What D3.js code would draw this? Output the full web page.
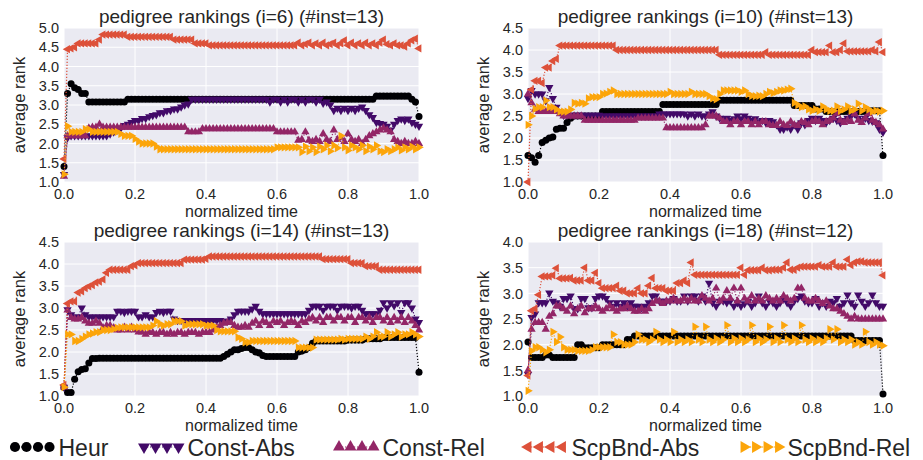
<!DOCTYPE html>
<html>
<head>
<meta charset="utf-8">
<script src="https://cdn.jsdelivr.net/npm/d3@7"></script>
<style>
  body { margin: 0; background: #fff; }
  svg { display: block; font-family: "Liberation Sans", Arial, sans-serif; }
</style>
</head>
<body>
<svg id="chart" width="923" height="460"></svg>
<script>
// series, in drawing order
const seriesNames = ["Heur", "Const-Abs", "Const-Rel", "ScpBnd-Abs", "ScpBnd-Rel"];
const seriesColors = ["#000004", "#420a68", "#932667", "#dd513a", "#fca50a"];

const titles = [
  "pedigree rankings (i=6) (#inst=13)",
  "pedigree rankings (i=10) (#inst=13)",
  "pedigree rankings (i=14) (#inst=13)",
  "pedigree rankings (i=18) (#inst=12)",
];
const yMax = [5.0, 4.5, 4.5, 4.0];
const xTicks = [0, 0.2, 0.4, 0.6, 0.8, 1.0];

// average rank sampled at normalized time 0.00, 0.01, ... 1.00
const heur6 = [
  1.4, 3.3, 3.55, 3.45, 3.4, 3.3, 3.3, 3.08, 3.08, 3.08,
  3.08, 3.08, 3.08, 3.08, 3.08, 3.08, 3.08, 3.08, 3.15, 3.15,
  3.15, 3.15, 3.15, 3.15, 3.15, 3.15, 3.15, 3.15, 3.15, 3.15,
  3.15, 3.15, 3.15, 3.15, 3.15, 3.15, 3.15, 3.15, 3.15, 3.15,
  3.15, 3.15, 3.15, 3.15, 3.15, 3.15, 3.15, 3.15, 3.15, 3.15,
  3.15, 3.15, 3.15, 3.15, 3.15, 3.15, 3.15, 3.15, 3.15, 3.15,
  3.15, 3.15, 3.15, 3.15, 3.15, 3.15, 3.15, 3.15, 3.15, 3.15,
  3.15, 3.15, 3.15, 3.15, 3.15, 3.15, 3.15, 3.15, 3.15, 3.15,
  3.15, 3.15, 3.15, 3.15, 3.15, 3.15, 3.15, 3.15, 3.23, 3.23,
  3.23, 3.23, 3.23, 3.23, 3.23, 3.23, 3.23, 3.23, 3.15, 3.08,
  2.7];
const constAbs6 = [
  1.2, 2.15, 2.2, 2.2, 2.2, 2.2, 2.2, 2.2, 2.2, 2.2,
  2.2, 2.2, 2.2, 2.25, 2.3, 2.35, 2.4, 2.47, 2.5, 2.55,
  2.6, 2.6, 2.65, 2.65, 2.7, 2.73, 2.75, 2.8, 2.8, 2.85,
  2.86, 2.9, 2.9, 2.95, 3.0, 3.03, 3.15, 3.15, 3.15, 3.15,
  3.15, 3.15, 3.15, 3.15, 3.15, 3.15, 3.15, 3.15, 3.15, 3.15,
  3.15, 3.15, 3.15, 3.15, 3.15, 3.15, 3.15, 3.15, 3.08, 3.15,
  3.15, 3.08, 3.15, 3.08, 3.15, 3.15, 3.08, 3.15, 3.08, 3.15,
  3.15, 3.08, 3.15, 3.05, 3.08, 3.0, 2.86, 2.92, 2.86, 2.92,
  2.86, 2.92, 2.86, 2.92, 2.95, 2.86, 2.75, 2.68, 2.55, 2.52,
  2.5, 2.45, 2.35, 2.5, 2.6, 2.64, 2.6, 2.64, 2.55, 2.5,
  2.45];
const constRel6 = [
  1.15, 2.2, 2.2, 2.2, 2.2, 2.2, 2.2, 2.4, 2.42, 2.42,
  2.5, 2.42, 2.42, 2.42, 2.42, 2.42, 2.42, 2.42, 2.42, 2.42,
  2.42, 2.42, 2.42, 2.42, 2.42, 2.42, 2.42, 2.42, 2.42, 2.42,
  2.42, 2.42, 2.42, 2.42, 2.42, 2.3, 2.3, 2.3, 2.3, 2.38,
  2.38, 2.38, 2.38, 2.38, 2.38, 2.38, 2.38, 2.38, 2.38, 2.38,
  2.38, 2.38, 2.38, 2.38, 2.38, 2.38, 2.38, 2.38, 2.38, 2.38,
  2.3, 2.3, 2.3, 2.3, 2.3, 2.3, 2.08, 2.1, 2.3, 2.08,
  2.05, 2.1, 2.05, 2.25, 2.1, 2.05, 2.35, 2.1, 2.15, 2.05,
  2.25, 2.1, 2.05, 2.1, 2.0, 2.1, 2.2, 2.25, 2.3, 2.35,
  2.4, 2.35, 2.3, 2.1, 2.05, 2.0, 2.05, 2.0, 2.0, 2.05,
  2.0];
const scpAbs6 = [
  1.6, 4.45, 4.47, 4.5, 4.6, 4.6, 4.6, 4.6, 4.6, 4.6,
  4.7, 4.83, 4.83, 4.83, 4.83, 4.83, 4.83, 4.83, 4.77, 4.77,
  4.77, 4.77, 4.77, 4.77, 4.77, 4.77, 4.77, 4.77, 4.77, 4.77,
  4.77, 4.7, 4.7, 4.7, 4.7, 4.7, 4.7, 4.6, 4.6, 4.6,
  4.6, 4.55, 4.55, 4.55, 4.55, 4.55, 4.55, 4.55, 4.55, 4.55,
  4.55, 4.55, 4.55, 4.55, 4.55, 4.55, 4.55, 4.55, 4.55, 4.55,
  4.55, 4.55, 4.55, 4.55, 4.55, 4.55, 4.62, 4.55, 4.58, 4.62,
  4.55, 4.6, 4.55, 4.62, 4.55, 4.58, 4.62, 4.55, 4.6, 4.68,
  4.55, 4.62, 4.55, 4.6, 4.55, 4.62, 4.55, 4.6, 4.55, 4.62,
  4.7, 4.58, 4.55, 4.6, 4.55, 4.55, 4.52, 4.6, 4.68, 4.72,
  4.47];
const scpRel6 = [
  1.2, 2.45, 2.3, 2.3, 2.3, 2.3, 2.37, 2.37, 2.3, 2.3,
  2.3, 2.3, 2.3, 2.3, 2.3, 2.3, 2.25, 2.2, 2.2, 2.2,
  2.12, 2.05, 2.0, 2.0, 2.0, 2.0, 1.92, 1.85, 1.85, 1.85,
  1.85, 1.85, 1.85, 1.85, 1.85, 1.85, 1.85, 1.85, 1.85, 1.85,
  1.85, 1.85, 1.85, 1.85, 1.85, 1.85, 1.85, 1.85, 1.85, 1.85,
  1.85, 1.85, 1.85, 1.85, 1.85, 1.85, 1.85, 1.85, 1.85, 1.85,
  1.9, 1.9, 1.9, 1.9, 1.9, 1.9, 1.9, 1.78, 1.92, 1.8,
  1.9, 1.78, 1.92, 1.85, 1.95, 1.8, 1.95, 1.88, 2.2, 1.9,
  1.82, 1.95, 1.9, 1.85, 1.95, 1.8, 1.92, 1.85, 1.95, 1.8,
  1.78, 1.85, 1.8, 1.85, 1.9, 1.82, 1.9, 1.85, 1.92, 1.85,
  1.9];

const heur10 = [
  1.6, 1.55, 1.45, 1.6, 1.9, 1.95, 2.0, 2.02, 2.2, 2.22,
  2.22, 2.35, 2.45, 2.5, 2.5, 2.5, 2.5, 2.5, 2.5, 2.5,
  2.5, 2.6, 2.6, 2.6, 2.6, 2.6, 2.6, 2.6, 2.6, 2.6,
  2.6, 2.6, 2.6, 2.6, 2.6, 2.6, 2.6, 2.6, 2.76, 2.76,
  2.76, 2.76, 2.76, 2.76, 2.76, 2.76, 2.76, 2.76, 2.76, 2.76,
  2.76, 2.76, 2.76, 2.76, 2.86, 2.86, 2.86, 2.86, 2.86, 2.86,
  2.86, 2.86, 2.86, 2.86, 2.86, 2.86, 2.86, 2.86, 2.86, 2.86,
  2.86, 2.86, 2.86, 2.86, 2.86, 2.74, 2.74, 2.74, 2.74, 2.74,
  2.74, 2.66, 2.66, 2.66, 2.6, 2.6, 2.6, 2.6, 2.6, 2.6,
  2.6, 2.6, 2.6, 2.6, 2.6, 2.6, 2.62, 2.62, 2.62, 2.62,
  1.6];
const constAbs10 = [
  2.9, 3.08, 3.0, 3.0, 3.0, 2.85, 3.15, 2.9, 2.7, 2.6,
  2.52, 2.52, 2.52, 2.52, 2.52, 2.52, 2.52, 2.52, 2.52, 2.52,
  2.52, 2.5, 2.5, 2.5, 2.5, 2.5, 2.5, 2.5, 2.5, 2.5,
  2.5, 2.5, 2.5, 2.5, 2.5, 2.5, 2.5, 2.55, 2.55, 2.55,
  2.55, 2.55, 2.55, 2.55, 2.55, 2.5, 2.55, 2.5, 2.55, 2.5,
  2.5, 2.55, 2.6, 2.5, 2.45, 2.44, 2.45, 2.4, 2.44, 2.5,
  2.44, 2.5, 2.45, 2.4, 2.44, 2.37, 2.4, 2.35, 2.4, 2.37,
  2.3, 2.2, 2.2, 2.25, 2.2, 2.3, 2.2, 2.35, 2.3, 2.4,
  2.45, 2.4, 2.45, 2.4, 2.35, 2.4, 2.45, 2.4, 2.35, 2.4,
  2.45, 2.5, 2.55, 2.45, 2.4, 2.45, 2.4, 2.38, 2.35, 2.2,
  2.13];
const constRel10 = [
  3.0, 2.8, 2.65, 2.6, 2.6, 2.6, 2.6, 2.6, 2.6, 2.55,
  2.5, 2.5, 2.5, 2.5, 2.5, 2.5, 2.4, 2.4, 2.4, 2.4,
  2.4, 2.4, 2.4, 2.4, 2.4, 2.4, 2.4, 2.4, 2.4, 2.4,
  2.4, 2.45, 2.45, 2.45, 2.45, 2.45, 2.45, 2.45, 2.45, 2.23,
  2.23, 2.23, 2.23, 2.23, 2.23, 2.23, 2.23, 2.23, 2.23, 2.23,
  2.3, 2.5, 2.5, 2.5, 2.45, 2.37, 2.37, 2.3, 2.37, 2.37,
  2.3, 2.37, 2.37, 2.3, 2.37, 2.3, 2.37, 2.37, 2.3, 2.28,
  2.28, 2.37, 2.3, 2.28, 2.37, 2.3, 2.28, 2.37, 2.35, 2.3,
  2.37, 2.4, 2.37, 2.3, 2.37, 2.4, 2.45, 2.55, 2.4, 2.35,
  2.4, 2.37, 2.55, 2.4, 2.35, 2.45, 2.55, 2.4, 2.35, 2.3,
  2.2];
const scpAbs10 = [
  1.0, 3.1, 3.3, 3.3, 3.25, 3.6, 3.6, 3.75, 3.8, 4.1,
  4.1, 4.1, 4.1, 4.1, 4.1, 4.1, 4.1, 4.1, 4.1, 4.1,
  4.1, 4.1, 4.1, 4.1, 4.1, 4.0, 4.0, 4.0, 4.0, 4.0,
  4.0, 4.0, 4.0, 4.0, 4.0, 4.0, 4.0, 4.0, 4.0, 4.0,
  4.0, 4.0, 4.0, 4.0, 4.0, 4.0, 4.0, 4.0, 4.0, 4.0,
  4.0, 4.0, 4.0, 4.0, 3.89, 3.89, 3.89, 3.89, 3.89, 3.89,
  3.89, 3.89, 3.89, 3.89, 3.89, 3.89, 3.89, 3.95, 3.89, 3.89,
  3.89, 3.89, 3.89, 3.89, 3.89, 3.89, 3.89, 3.89, 3.89, 3.89,
  4.0, 3.95, 3.95, 3.95, 3.95, 4.1, 3.95, 3.95, 4.0, 4.15,
  3.97, 3.97, 3.97, 3.97, 3.97, 3.97, 3.97, 4.0, 3.97, 4.18,
  3.95];
const scpRel10 = [
  2.3, 2.5, 2.66, 2.7, 2.7, 2.85, 2.7, 2.7, 2.65, 2.6,
  2.6, 2.6, 2.65, 2.8, 2.78, 2.8, 2.78, 2.9, 2.93, 2.93,
  2.93, 3.0, 3.01, 3.05, 3.08, 3.0, 3.0, 3.0, 3.0, 3.0,
  3.0, 3.0, 3.0, 3.0, 3.0, 3.0, 3.0, 3.0, 3.0, 3.0,
  3.05, 3.0, 3.0, 3.0, 3.0, 3.0, 3.05, 3.0, 3.0, 3.0,
  3.0, 2.95, 2.9, 2.88, 3.0, 3.08, 3.08, 3.08, 3.08, 3.08,
  3.05, 3.08, 3.0, 2.96, 2.95, 2.96, 2.95, 3.0, 3.05, 3.02,
  3.05, 3.08, 3.08, 3.1, 3.12, 2.8, 2.75, 2.7, 2.72, 2.65,
  2.62, 2.65, 2.62, 2.72, 2.65, 2.62, 2.62, 2.72, 2.62, 2.65,
  2.72, 2.62, 2.65, 2.78, 2.62, 2.7, 2.65, 2.6, 2.62, 2.6,
  2.62];

const heur14 = [
  1.2, 1.08, 1.08, 1.38, 1.55, 1.6, 1.62, 1.75, 1.85, 1.85,
  1.86, 1.86, 1.86, 1.86, 1.86, 1.86, 1.86, 1.86, 1.86, 1.86,
  1.86, 1.86, 1.86, 1.86, 1.86, 1.86, 1.86, 1.86, 1.86, 1.86,
  1.86, 1.86, 1.86, 1.86, 1.86, 1.86, 1.86, 1.86, 1.86, 1.86,
  1.86, 1.86, 1.86, 1.86, 1.86, 1.9, 1.95, 2.0, 2.05, 2.05,
  2.08, 2.1, 2.1, 2.05, 2.0, 1.98, 1.92, 1.9, 1.9, 1.9,
  1.9, 1.9, 1.9, 1.9, 1.9, 1.9, 2.0, 2.02, 2.05, 2.1,
  2.2, 2.25, 2.25, 2.25, 2.25, 2.25, 2.25, 2.25, 2.25, 2.25,
  2.27, 2.27, 2.27, 2.27, 2.27, 2.3, 2.3, 2.3, 2.3, 2.3,
  2.33, 2.33, 2.33, 2.33, 2.33, 2.33, 2.33, 2.33, 2.33, 2.33,
  1.54];
const constAbs14 = [
  1.2, 2.96, 2.85, 2.8, 2.8, 3.0, 2.85, 2.8, 2.8, 2.8,
  2.8, 2.8, 2.8, 2.8, 2.8, 2.93, 2.93, 2.9, 2.93, 2.93,
  2.93, 2.8, 2.8, 2.85, 2.8, 2.8, 2.9, 2.93, 2.9, 2.93,
  2.93, 2.75, 2.72, 2.72, 2.72, 2.72, 2.72, 2.72, 2.72, 2.72,
  2.72, 2.72, 2.72, 2.72, 2.72, 2.7, 2.7, 2.75, 2.85, 2.93,
  2.93, 2.93, 2.93, 2.98, 3.04, 2.93, 2.87, 2.87, 2.87, 2.87,
  2.87, 2.87, 2.87, 2.87, 2.87, 2.87, 2.87, 2.87, 2.87, 2.95,
  3.04, 3.04, 3.04, 2.95, 3.04, 3.04, 3.04, 2.95, 3.04, 3.04,
  3.04, 3.0, 3.04, 3.04, 2.95, 2.87, 2.87, 2.87, 2.87, 2.95,
  3.12, 3.0, 3.12, 3.05, 3.12, 2.9, 3.12, 3.12, 3.0, 2.75,
  2.67];
const constRel14 = [
  1.2, 2.95, 2.78, 2.75, 2.75, 2.78, 2.7, 2.65, 2.65, 2.7,
  2.65, 2.55, 2.6, 2.6, 2.55, 2.5, 2.5, 2.56, 2.5, 2.56,
  2.5, 2.45, 2.45, 2.4, 2.45, 2.44, 2.4, 2.44, 2.44, 2.4,
  2.44, 2.4, 2.44, 2.44, 2.4, 2.44, 2.44, 2.44, 2.4, 2.44,
  2.44, 2.44, 2.5, 2.56, 2.6, 2.65, 2.67, 2.67, 2.6, 2.56,
  2.56, 2.6, 2.56, 2.65, 2.7, 2.6, 2.7, 2.67, 2.6, 2.7,
  2.67, 2.7, 2.6, 2.67, 2.7, 2.67, 2.6, 2.7, 2.67, 2.75,
  2.78, 2.7, 2.78, 2.67, 2.78, 2.78, 2.7, 2.78, 2.78, 2.7,
  2.78, 2.78, 2.67, 2.78, 2.78, 2.7, 2.78, 2.67, 2.78, 2.78,
  2.7, 2.78, 2.67, 2.78, 2.7, 2.78, 2.67, 2.78, 2.7, 2.6,
  2.5];
const scpAbs14 = [
  1.25, 3.1, 3.15, 3.15, 3.35, 3.38, 3.45, 3.49, 3.52, 3.58,
  3.6, 3.65, 3.8, 3.87, 3.87, 3.87, 3.87, 3.87, 3.87, 3.95,
  3.97, 4.02, 4.02, 4.02, 4.02, 4.02, 4.02, 4.02, 4.02, 4.02,
  4.02, 4.02, 4.02, 4.02, 4.1, 4.1, 4.1, 4.1, 4.1, 4.1,
  4.12, 4.17, 4.17, 4.17, 4.17, 4.17, 4.17, 4.17, 4.17, 4.17,
  4.17, 4.17, 4.17, 4.17, 4.17, 4.17, 4.17, 4.17, 4.17, 4.17,
  4.17, 4.17, 4.17, 4.17, 4.17, 4.17, 4.17, 4.17, 4.17, 4.17,
  4.17, 4.17, 4.17, 4.11, 4.11, 4.11, 4.11, 4.11, 4.11, 4.11,
  4.11, 4.02, 4.02, 4.02, 4.02, 3.95, 3.95, 3.95, 3.95, 3.87,
  3.87, 3.87, 3.87, 3.87, 3.87, 3.87, 3.87, 3.87, 3.87, 3.87,
  3.87];
const scpRel14 = [
  1.2, 2.4, 2.4, 2.25, 2.25, 2.3, 2.35, 2.4, 2.42, 2.45,
  2.45, 2.5, 2.5, 2.5, 2.52, 2.55, 2.56, 2.56, 2.56, 2.56,
  2.56, 2.56, 2.56, 2.56, 2.56, 2.6, 2.7, 2.63, 2.6, 2.63,
  2.63, 2.7, 2.7, 2.7, 2.6, 2.63, 2.63, 2.63, 2.63, 2.63,
  2.6, 2.6, 2.6, 2.5, 2.47, 2.47, 2.47, 2.47, 2.47, 2.33,
  2.3, 2.22, 2.22, 2.25, 2.25, 2.25, 2.25, 2.25, 2.25, 2.25,
  2.25, 2.25, 2.25, 2.25, 2.25, 2.25, 2.1, 2.1, 2.1, 2.1,
  2.1, 2.28, 2.28, 2.28, 2.28, 2.28, 2.28, 2.28, 2.3, 2.28,
  2.3, 2.3, 2.3, 2.3, 2.3, 2.35, 2.3, 2.35, 2.45, 2.35,
  2.35, 2.45, 2.35, 2.4, 2.45, 2.35, 2.4, 2.4, 2.45, 2.4,
  2.35];

const heur18 = [
  2.05, 1.75, 1.75, 1.75, 1.75, 1.8, 1.8, 1.75, 1.75, 1.75,
  1.75, 1.75, 1.75, 1.75, 2.0, 2.0, 1.94, 1.94, 1.94, 1.94,
  1.94, 2.0, 2.0, 2.0, 2.0, 2.0, 2.0, 2.0, 2.1, 2.1,
  2.17, 2.17, 2.17, 2.17, 2.17, 2.17, 2.17, 2.17, 2.17, 2.17,
  2.17, 2.17, 2.17, 2.17, 2.17, 2.17, 2.17, 2.17, 2.17, 2.17,
  2.17, 2.17, 2.17, 2.17, 2.17, 2.17, 2.17, 2.17, 2.17, 2.17,
  2.17, 2.17, 2.17, 2.17, 2.17, 2.17, 2.17, 2.17, 2.17, 2.17,
  2.17, 2.17, 2.17, 2.17, 2.17, 2.17, 2.17, 2.17, 2.17, 2.17,
  2.17, 2.17, 2.17, 2.17, 2.17, 2.17, 2.17, 2.17, 2.17, 2.17,
  2.17, 2.17, 2.08, 2.08, 2.08, 2.08, 2.08, 2.08, 2.08, 2.08,
  1.04];
const constAbs18 = [
  1.42, 2.53, 2.6, 2.82, 2.82, 2.82, 3.01, 2.85, 2.82, 2.75,
  2.9, 2.9, 2.95, 2.7, 2.7, 2.9, 2.9, 2.72, 2.72, 2.9,
  2.95, 2.95, 2.9, 2.82, 2.75, 2.82, 2.75, 2.82, 2.75, 2.82,
  2.75, 2.75, 2.72, 2.75, 2.82, 2.95, 2.95, 2.85, 2.85, 2.85,
  2.85, 2.9, 2.85, 2.85, 2.95, 2.85, 2.95, 2.95, 2.85, 2.95,
  2.85, 3.2, 2.82, 2.75, 2.85, 2.85, 2.82, 2.85, 2.75, 2.82,
  2.75, 2.8, 2.85, 2.75, 2.82, 2.95, 2.82, 2.75, 2.85, 2.82,
  2.75, 2.82, 2.9, 2.82, 2.75, 2.85, 2.9, 2.95, 2.85, 2.82,
  2.82, 2.9, 2.75, 2.82, 2.75, 2.85, 2.82, 2.9, 2.75, 2.82,
  2.97, 2.82, 2.75, 2.97, 2.85, 2.75, 2.82, 2.97, 2.82, 2.75,
  2.75];
const constRel18 = [
  1.5, 2.3, 2.43, 2.43, 2.43, 2.3, 2.55, 2.6, 2.75, 2.75,
  2.7, 2.65, 2.75, 2.6, 2.7, 2.75, 2.62, 2.7, 2.7, 2.75,
  2.7, 2.65, 2.7, 2.75, 2.7, 2.65, 2.7, 2.7, 2.75, 2.7,
  2.65, 2.65, 2.7, 2.65, 2.7, 2.8, 2.85, 2.85, 2.8, 2.85,
  2.85, 2.9, 2.85, 2.85, 2.9, 2.85, 2.9, 2.85, 2.85, 2.95,
  2.9, 2.85, 2.9, 3.1, 2.85, 2.9, 3.05, 2.9, 3.1, 2.85,
  3.1, 2.9, 2.85, 2.95, 2.85, 2.9, 2.85, 2.95, 2.9, 2.85,
  2.9, 2.85, 2.95, 2.9, 2.85, 2.9, 3.1, 3.1, 2.9, 2.85,
  2.85, 2.9, 2.85, 2.8, 2.85, 2.75, 2.7, 2.7, 2.65, 2.6,
  2.55, 2.5, 2.55, 2.5, 2.5, 2.5, 2.5, 2.5, 2.5, 2.5,
  2.5];
const scpAbs18 = [
  1.4, 2.66, 2.7, 2.97, 3.33, 3.33, 3.33, 3.35, 3.49, 3.29,
  3.29, 3.29, 3.3, 3.25, 3.25, 3.25, 3.5, 3.25, 3.25, 3.4,
  3.2, 3.1, 3.1, 3.1, 3.1, 3.15, 3.05, 3.05, 3.0, 3.0,
  3.0, 3.1, 3.0, 3.0, 3.15, 3.3, 3.1, 3.1, 3.1, 3.05,
  3.05, 3.05, 3.2, 3.2, 3.25, 3.2, 3.6, 3.36, 3.36, 3.36,
  3.36, 3.36, 3.36, 3.36, 3.36, 3.36, 3.36, 3.36, 3.36, 3.36,
  3.5, 3.36, 3.45, 3.45, 3.45, 3.45, 3.5, 3.45, 3.45, 3.46,
  3.46, 3.46, 3.5, 3.6, 3.46, 3.46, 3.5, 3.52, 3.52, 3.52,
  3.52, 3.52, 3.55, 3.52, 3.52, 3.52, 3.6, 3.52, 3.52, 3.52,
  3.66, 3.55, 3.6, 3.62, 3.62, 3.6, 3.6, 3.6, 3.6, 3.6,
  3.35];
const scpRel18 = [
  1.1, 1.88, 1.95, 1.95, 1.9, 1.85, 1.9, 2.25, 2.05, 2.15,
  1.95, 1.9, 1.9, 1.9, 1.88, 1.88, 1.88, 1.88, 1.9, 1.95,
  1.95, 1.95, 1.95, 1.95, 2.2, 2.05, 2.05, 2.0, 2.0, 2.0,
  2.05, 2.2, 2.1, 2.1, 2.05, 2.1, 2.25, 2.1, 2.05, 2.1,
  2.05, 2.25, 2.05, 2.1, 2.05, 2.1, 2.05, 2.35, 2.1, 2.05,
  2.35, 2.1, 2.05, 2.12, 2.05, 2.1, 2.38, 2.05, 2.12, 2.05,
  2.12, 2.05, 2.1, 2.38, 2.05, 2.12, 2.05, 2.1, 2.35, 2.05,
  2.12, 2.05, 2.38, 2.1, 2.05, 2.12, 2.05, 2.38, 2.1, 2.05,
  2.12, 2.05, 2.1, 2.05, 2.12, 2.3, 2.1, 2.3, 2.05, 2.1,
  2.05, 2.1, 2.0, 2.05, 2.0, 2.25, 2.05, 2.0, 2.05, 2.0,
  1.98];

const panelSeries = [
  [heur6, constAbs6, constRel6, scpAbs6, scpRel6],
  [heur10, constAbs10, constRel10, scpAbs10, scpRel10],
  [heur14, constAbs14, constRel14, scpAbs14, scpRel14],
  [heur18, constAbs18, constRel18, scpAbs18, scpRel18],
];

// layout
const plotW = 355, plotH = 154;
const origins = [[64, 28], [528, 28], [64, 242], [528, 242]];
const markerRot = [0, 180, 0, -90, 90];
const textColor = "#262626";

const svg = d3.select("#chart");

function marker(i, size) {
  const type = i === 0 ? d3.symbolCircle : d3.symbolTriangle;
  return d3.symbol().type(type).size(i === 0 ? size * 1.3 : size)();
}

panelSeries.forEach((series, p) => {
  const [left, top] = origins[p];
  const x = d3.scaleLinear().domain([0, 1]).range([0, plotW]);
  const y = d3.scaleLinear().domain([1, yMax[p]]).range([plotH, 0]);
  const g = svg.append("g").attr("transform", `translate(${left},${top})`);

  g.append("rect").attr("width", plotW).attr("height", plotH).attr("fill", "#eaeaf2");

  const yTicks = d3.range(1, yMax[p] + 0.001, 0.5);
  g.selectAll(".gy").data(yTicks).join("line")
    .attr("x1", 0).attr("x2", plotW)
    .attr("y1", (d) => y(d)).attr("y2", (d) => y(d))
    .attr("stroke", "#fff").attr("stroke-width", 1);
  g.selectAll(".gx").data(xTicks).join("line")
    .attr("y1", 0).attr("y2", plotH)
    .attr("x1", (d) => x(d)).attr("x2", (d) => x(d))
    .attr("stroke", "#fff").attr("stroke-width", 1);

  g.selectAll(".ty").data(yTicks).join("text")
    .attr("x", -5).attr("y", (d) => y(d)).attr("dy", "0.36em")
    .attr("text-anchor", "end").attr("font-size", 14.5).attr("fill", textColor)
    .text((d) => d.toFixed(1));
  g.selectAll(".tx").data(xTicks).join("text")
    .attr("x", (d) => x(d)).attr("y", plotH + 16.5)
    .attr("text-anchor", "middle").attr("font-size", 14.5).attr("fill", textColor)
    .text((d) => d.toFixed(1));

  g.append("text")
    .attr("x", plotW / 2).attr("y", plotH + 35)
    .attr("text-anchor", "middle").attr("font-size", 16).attr("fill", textColor)
    .text("normalized time");
  g.append("text")
    .attr("transform", `translate(-39,${plotH / 2}) rotate(-90)`)
    .attr("text-anchor", "middle").attr("font-size", 16.5).attr("fill", textColor)
    .text("average rank");
  g.append("text")
    .attr("x", plotW / 2).attr("y", -5)
    .attr("text-anchor", "middle").attr("font-size", 19).attr("fill", textColor)
    .text(titles[p]);

  series.forEach((vals, s) => {
    const n = vals.length;
    const line = d3.line().x((d, i) => x(i / (n - 1))).y((d) => y(d));
    g.append("path").datum(vals)
      .attr("d", line).attr("fill", "none")
      .attr("stroke", seriesColors[s]).attr("stroke-width", 1.2)
      .attr("stroke-dasharray", "1.2,1.8");
    g.append("g").selectAll("path").data(vals).join("path")
      .attr("d", marker(s, 30))
      .attr("transform", (d, i) => `translate(${x(i / (n - 1))},${y(d)}) rotate(${markerRot[s]})`)
      .attr("fill", seriesColors[s]);
  });
});

// legend
const legendX = [15, 144, 339, 528, 744];
const legendY = 447;
const step = 11.5;
seriesNames.forEach((name, s) => {
  const g = svg.append("g").attr("transform", `translate(${legendX[s]},${legendY})`);
  g.append("line").attr("x1", 0).attr("x2", step * 3)
    .attr("stroke", seriesColors[s]).attr("stroke-width", 1.2).attr("stroke-dasharray", "1.2,1.8");
  g.selectAll("path").data(d3.range(4)).join("path")
    .attr("d", marker(s, 62))
    .attr("transform", (k) => `translate(${k * step},0) rotate(${markerRot[s]})`)
    .attr("fill", seriesColors[s]);
  g.append("text").attr("x", step * 3 + 9).attr("y", 9)
    .attr("font-size", 23).attr("fill", textColor).text(name);
});
</script>
</body>
</html>
